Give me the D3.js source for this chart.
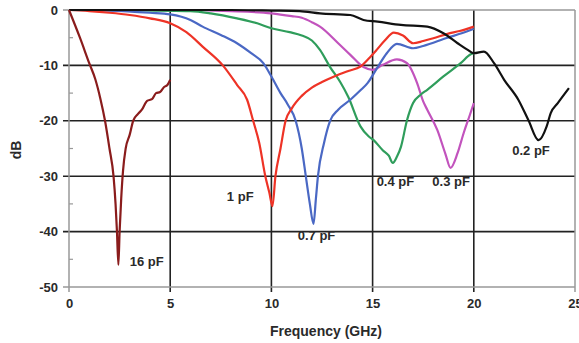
<!DOCTYPE html>
<html>
<head>
<meta charset="utf-8">
<script src="https://d3js.org/d3.v7.min.js"></script>
<title>Capacitor resonance</title>
<style>
body {margin:0; background:#fff;}
text {font-family: "Liberation Sans", Arial, sans-serif; fill:#2a2a2a;}
</style>
</head>
<body>
<div id="myDiv"></div>
<script>
// x ticks / y ticks
var freqTicks = [0, 5, 10, 15, 20, 25];
var dbTicks = [0, -10, -20, -30, -40, -50];
var dbMinor = [-5, -15, -25, -35, -45];

// curves: [GHz, dB]
var pf16 = [[0,0],[0.54,-5],[1.0,-9.6],[1.3,-12.5],[1.55,-16],[1.78,-20],[2.0,-25],[2.2,-30],[2.3,-35],[2.37,-40],[2.44,-46],
  [2.5,-40],[2.58,-34],[2.67,-29],[2.8,-25],[3.0,-22.5],[3.17,-20],[3.4,-18.8],[3.6,-18],[3.86,-16.4],[4.1,-16.1],
  [4.3,-15],[4.5,-14.8],[4.7,-13.9],[4.85,-13.6],[5.0,-12.6]];
var pf1 = [[0,0],[1,-0.2],[2,-0.5],[3,-0.9],[4,-1.5],[5,-2.4],[5.8,-4],[6.6,-6.6],[7.6,-10],[8.3,-13.5],[8.8,-16.2],
  [9.1,-20],[9.4,-24],[9.7,-30],[9.9,-33],[10.05,-35.4],[10.2,-30],[10.45,-25],[10.7,-20],[11.0,-17.8],[11.5,-15.5],
  [12,-14],[12.5,-13],[13.1,-12],[13.8,-11],[14.4,-10.2],[14.8,-8.8],[15.2,-7.2],[15.6,-5.5],[16.05,-4.1],[16.5,-4.6],
  [17,-6],[17.5,-5.6],[18,-5.1],[18.7,-4.3],[19.3,-3.8],[20,-3]];
var pf07 = [[0,0],[2,-0.1],[4,-0.5],[5,-0.8],[6,-1.8],[6.6,-3],[7.5,-4.5],[8.3,-6],[9,-7.8],[9.6,-9.6],[10,-12],
  [10.45,-15],[10.8,-17],[11.2,-20],[11.5,-25],[11.7,-30],[11.9,-35],[12.08,-38.6],[12.2,-34],[12.3,-30],[12.6,-24],
  [12.9,-20],[13.3,-18],[13.9,-16.2],[14.4,-14.5],[14.75,-13.2],[15.25,-10.3],[15.7,-7.8],[16.2,-6.1],[17,-6.9],
  [17.5,-6.5],[18.7,-5],[19.4,-4.2],[20,-3.4]];
var pf04 = [[0,0],[3,-0.05],[6,-0.2],[7,-0.6],[8.3,-1.5],[9.3,-2.4],[10,-3.3],[10.9,-4],[11.5,-4.6],[12,-5.5],[12.4,-7.2],
  [12.9,-10.3],[13.4,-13],[13.8,-15.7],[14.4,-21],[14.8,-22.8],[15.05,-23.5],[15.5,-25.3],[15.8,-26.3],[16.0,-27.6],
  [16.2,-26.5],[16.4,-24.7],[16.7,-19.9],[17.0,-16.8],[17.4,-15.2],[17.7,-14.4],[18.5,-12],[19.35,-9.6],[19.85,-8],[20,-7.8]];
var pf03 = [[0,0],[5,0],[8,-0.2],[10,-0.6],[11,-1.1],[11.5,-1.4],[12,-2.2],[12.4,-3],[13.3,-6],[13.9,-8.1],[14.55,-10.3],
  [15,-10.8],[15.5,-9.9],[16.2,-8.9],[16.7,-9.6],[17.2,-13.2],[17.5,-16.5],[17.7,-18],[18.2,-21.7],[18.6,-26],[18.85,-28.5],
  [19.2,-25.8],[19.5,-22.2],[19.8,-19],[20,-16.8]];
var pf02 = [[0,0],[8,0],[10,-0.1],[11.4,-0.2],[12.4,-0.6],[13.9,-0.9],[14.55,-1.8],[15.25,-2.1],[16.4,-2.7],[17.7,-3],
  [18.5,-4.2],[19.2,-6],[19.7,-7.2],[20,-7.8],[20.5,-7.5],[21,-9.6],[21.5,-12.6],[22.2,-16.2],[22.7,-19.9],[23.2,-23.5],
  [23.6,-21],[23.8,-18.6],[24.15,-16.8],[24.7,-14.1]];

var series = [
  {name:"0.3 pF", data:pf03, color:"#c253bd", lx:17.95, ly:-31.8},
  {name:"0.4 pF", data:pf04, color:"#2f9d5b", lx:15.2, ly:-31.8},
  {name:"0.7 pF", data:pf07, color:"#4a68c4", lx:11.3, ly:-41.6},
  {name:"1 pF", data:pf1, color:"#ee3326", lx:7.8, ly:-34.4},
  {name:"0.2 pF", data:pf02, color:"#111111", lx:21.9, ly:-26.2},
  {name:"16 pF", data:pf16, color:"#8a1c1c", lx:3.0, ly:-46.2}
];

var svg = d3.select("#myDiv").append("svg")
  .attr("width", 579)
  .attr("height", 343);

// scales
var x = d3.scaleLinear().domain([0, 25]).range([69, 575]);
var y = d3.scaleLinear().domain([0, -50]).range([10, 287]);

// horizontal grid
svg.append("g").selectAll("line").data([-10, -20, -30, -40]).enter().append("line")
  .attr("x1", x(0) - 6).attr("x2", x(25))
  .attr("y1", function(d){return y(d);}).attr("y2", function(d){return y(d);})
  .attr("stroke", "#222").attr("stroke-width", 1.6);

// vertical grid
svg.append("g").selectAll("line").data([5, 10, 15, 20]).enter().append("line")
  .attr("x1", function(d){return x(d);}).attr("x2", function(d){return x(d);})
  .attr("y1", y(0)).attr("y2", y(-50) + 5)
  .attr("stroke", "#222").attr("stroke-width", 1.6);

// frame (gray)
var frame = svg.append("g").attr("stroke", "#999").attr("stroke-width", 1.5);
frame.append("line").attr("x1", x(0)).attr("x2", x(25)).attr("y1", y(0)).attr("y2", y(0));
frame.append("line").attr("x1", x(0) - 6).attr("x2", x(25)).attr("y1", y(-50)).attr("y2", y(-50));
frame.append("line").attr("x1", x(0)).attr("x2", x(0)).attr("y1", y(0)).attr("y2", y(-50) + 5);
frame.append("line").attr("x1", x(25)).attr("x2", x(25)).attr("y1", y(0)).attr("y2", y(-50) + 5);
frame.append("line").attr("x1", x(0) - 6).attr("x2", x(0)).attr("y1", y(0)).attr("y2", y(0));

// minor ticks
svg.append("g").selectAll("line").data(dbMinor).enter().append("line")
  .attr("x1", x(0)).attr("x2", x(0) + 4)
  .attr("y1", function(d){return y(d);}).attr("y2", function(d){return y(d);})
  .attr("stroke", "#999").attr("stroke-width", 1.2);

// axes (labels only), plain hyphen like the original
var yaxis = d3.axisLeft(y).tickValues(dbTicks).tickSize(0).tickPadding(11)
  .tickFormat(function(d){return d < 0 ? "-" + Math.abs(d) : "" + d;});
var xaxis = d3.axisBottom(x).tickValues(freqTicks).tickSize(0).tickPadding(12);

var gy = svg.append("g").attr("transform", "translate(" + x(0) + ",0)").call(yaxis);
var gx = svg.append("g").attr("transform", "translate(0," + y(-50) + ")").call(xaxis);
gy.select(".domain").remove();
gx.select(".domain").remove();
svg.selectAll(".tick text")
  .attr("font-size", 13)
  .attr("font-family", "Liberation Sans, Arial, sans-serif")
  .attr("font-weight", "bold")
  .attr("fill", "#333");

// curves
var line = d3.line()
  .x(function(d){return x(d[0]);})
  .y(function(d){return y(d[1]);})
  .curve(d3.curveMonotoneX);

svg.append("g").selectAll("path").data(series).enter().append("path")
  .attr("d", function(d){return line(d.data);})
  .attr("fill", "none")
  .attr("stroke", function(d){return d.color;})
  .attr("stroke-width", 2.2)
  .attr("stroke-linejoin", "round");

// curve labels
svg.append("g").selectAll("text").data(series).enter().append("text")
  .attr("x", function(d){return x(d.lx);})
  .attr("y", function(d){return y(d.ly);})
  .attr("font-size", 13)
  .attr("font-weight", "bold")
  .attr("fill", "#333")
  .text(function(d){return d.name;});

// titles
svg.append("text")
  .attr("x", 326).attr("y", 336)
  .attr("text-anchor", "middle")
  .attr("font-size", 14)
  .attr("font-weight", "bold")
  .attr("fill", "#333")
  .text("Frequency (GHz)");

svg.append("text")
  .attr("transform", "translate(21,150) rotate(-90)")
  .attr("text-anchor", "middle")
  .attr("font-size", 14)
  .attr("font-weight", "bold")
  .attr("fill", "#333")
  .text("dB");
</script>
</body>
</html>
